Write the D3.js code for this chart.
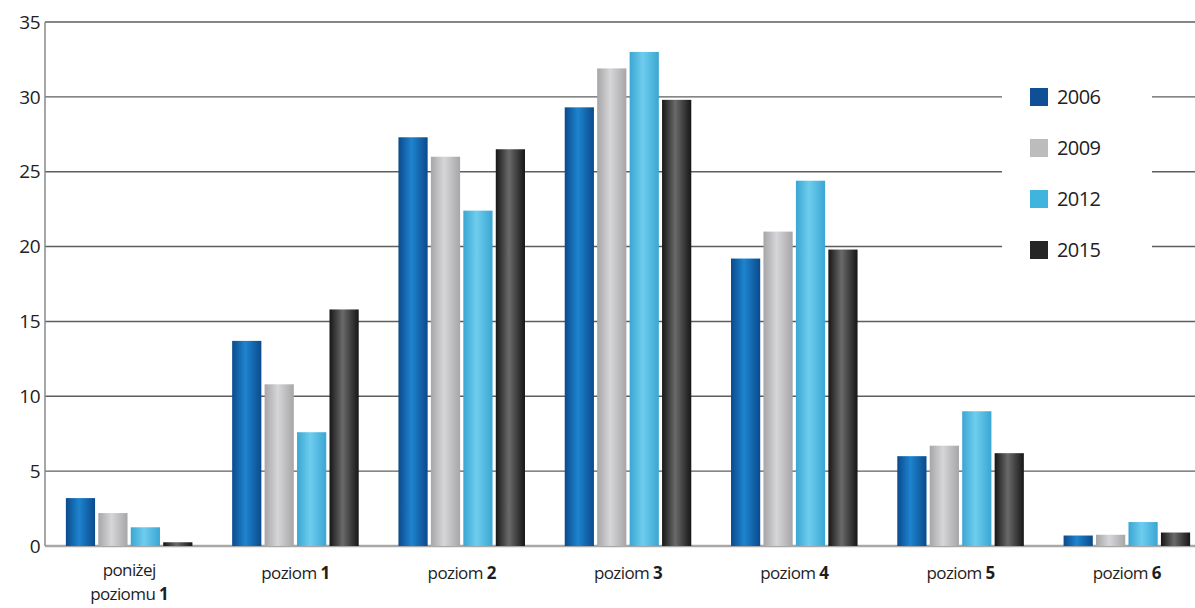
<!DOCTYPE html>
<html><head><meta charset="utf-8">
<script src="https://cdn.jsdelivr.net/npm/d3@7"></script>
<style>body{margin:0;background:#fff;}svg{display:block;}</style>
</head><body>
<script>
const categories = ["poniżej poziomu 1","poziom 1","poziom 2","poziom 3","poziom 4","poziom 5","poziom 6"];
const years = ["2006","2009","2012","2015"];
const v2006 = [3.2, 13.7, 27.3, 29.3, 19.2, 6.0, 0.7];
const v2009 = [2.2, 10.8, 26.0, 31.9, 21.0, 6.7, 0.75];
const v2012 = [1.25, 7.6, 22.4, 33.0, 24.4, 9.0, 1.6];
const v2015 = [0.25, 15.8, 26.5, 29.8, 19.8, 6.2, 0.9];
const yTicks = [0,5,10,15,20,25,30,35];
const series = [v2006, v2009, v2012, v2015];

const W = 1195, H = 608;
const svg = d3.select("body").append("svg").attr("width", W).attr("height", H);
const font = "'Open Sans', 'Noto Sans', sans-serif";

const colors = {
  "2006": ["#0b4a8c", "#1e84cf", "#0b4a8c"],
  "2009": ["#a6a6a8", "#d6d6d8", "#a6a6a8"],
  "2012": ["#3aa6d2", "#6ecdee", "#3aa6d2"],
  "2015": ["#161616", "#6a6a6a", "#161616"]
};
const legendColors = {"2006": "#0f4f95", "2009": "#bcbcbc", "2012": "#40b4dc", "2015": "#262626"};
const defs = svg.append("defs");
years.forEach(y => {
  const g = defs.append("linearGradient").attr("id", "g" + y).attr("x1", "0").attr("x2", "1").attr("y1", "0").attr("y2", "0");
  g.append("stop").attr("offset", "0%").attr("stop-color", colors[y][0]);
  g.append("stop").attr("offset", "45%").attr("stop-color", colors[y][1]);
  g.append("stop").attr("offset", "100%").attr("stop-color", colors[y][2]);
});

const y = d3.scaleLinear().domain([0, 35]).range([546, 22]);
const x0 = d3.scaleBand().domain(categories).range([46, 1210]).paddingInner(0.2).paddingOuter(0.1);
const x1 = d3.scaleBand().domain(years).range([0, x0.bandwidth()]).padding(0.1);

// grid
svg.append("g").selectAll("line").data(yTicks.filter(t => t > 0)).join("line")
  .attr("x1", 45).attr("x2", W).attr("y1", d => y(d)).attr("y2", d => y(d))
  .attr("stroke", "#5e5e5e").attr("stroke-width", 1.4);
// baseline
svg.append("line").attr("x1", 45).attr("x2", W).attr("y1", y(0)).attr("y2", y(0))
  .attr("stroke", "#a8a8a8").attr("stroke-width", 2.5);
// left axis line
svg.append("line").attr("x1", 45).attr("x2", 45).attr("y1", y(35)).attr("y2", y(0))
  .attr("stroke", "#8a8a8a").attr("stroke-width", 1.5);

// y labels
svg.append("g").selectAll("text").data(yTicks).join("text")
  .attr("x", 40).attr("y", d => y(d)).attr("dy", "0.35em").attr("text-anchor", "end")
  .attr("font-family", font).attr("font-size", 19).attr("fill", "#222").attr("letter-spacing", "-0.5")
  .text(d => d);

// bars
const gg = svg.append("g").selectAll("g").data(categories).join("g")
  .attr("transform", d => `translate(${x0(d)},0)`);
gg.selectAll("rect").data((c, i) => years.map((yr, k) => ({yr, v: series[k][i]}))).join("rect")
  .attr("x", d => x1(d.yr)).attr("width", x1.bandwidth())
  .attr("y", d => y(d.v)).attr("height", d => y(0) - y(d.v))
  .attr("fill", d => `url(#g${d.yr})`);

// x labels
function label(cx, yy, normal, bold) {
  const t = svg.append("text").attr("x", cx).attr("y", yy).attr("text-anchor", "middle")
    .attr("font-family", font).attr("font-size", 17).attr("fill", "#1e1e1e").attr("letter-spacing", "-0.6");
  t.append("tspan").text(normal);
  if (bold) t.append("tspan").attr("font-weight", "bold").text(bold);
}
categories.forEach((c, i) => {
  const cx = x0(c) + x0.bandwidth() / 2;
  if (i === 0) {
    label(cx, 576, "poniżej", null);
    label(cx, 600, "poziomu ", "1");
  } else {
    const parts = c.split(" ");
    label(cx, 579, parts[0] + " ", parts[1]);
  }
});

// legend
svg.append("rect").attr("x", 1002).attr("y", 70).attr("width", 150).attr("height", 200).attr("fill", "#fff");
const lg = svg.append("g").selectAll("g").data(years).join("g")
  .attr("transform", (d, i) => `translate(1030,${88 + i * 51})`);
lg.append("rect").attr("width", 18).attr("height", 18).attr("fill", d => legendColors[d]);
lg.append("text").attr("x", 27).attr("y", 9).attr("dy", "0.36em")
  .attr("font-family", font).attr("font-size", 20).attr("fill", "#222").attr("letter-spacing", "-0.6")
  .text(d => d);
</script>
</body></html>
